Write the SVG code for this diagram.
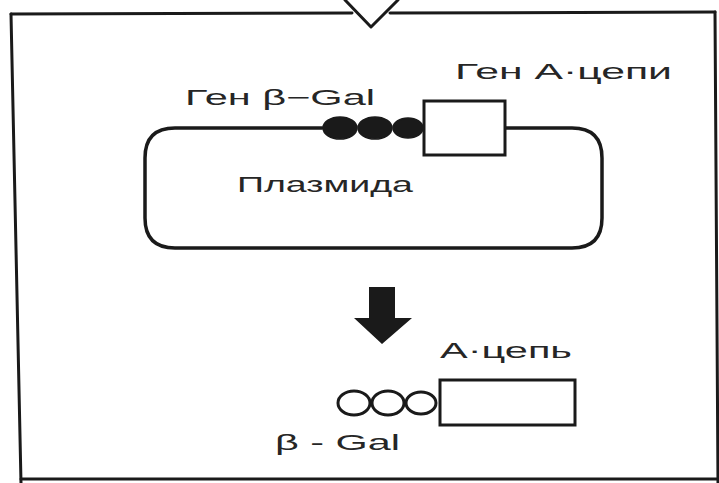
<svg xmlns="http://www.w3.org/2000/svg" width="719" height="483" viewBox="0 0 719 483">
  <style>
    .ln { fill: none; stroke: #1a1a1a; stroke-width: 3; stroke-linejoin: round; stroke-linecap: round; }
    .thick { stroke-width: 3.5; }
    .lbl { font-family: "Liberation Sans", Arial, sans-serif; font-size: 22px; fill: #262626; }
    .bead { fill: #1a1a1a; stroke: #1a1a1a; stroke-width: 1.5; }
    .ring { fill: #ffffff; stroke: #1a1a1a; stroke-width: 3; }
    .box { fill: #ffffff; stroke: #1a1a1a; stroke-width: 3; }
  </style>

  <rect width="719" height="483" fill="#ffffff"/>

  <!-- outer frame with the incoming arrow notch at the top -->
  <g id="frame">
    <path class="ln" d="M11,14 L352,13 M390,13 L715,12"/>
    <path class="ln" d="M345,0 L371,27 L398,0"/>
    <path class="ln" d="M11,14 L21,483"/>
    <path class="ln" d="M715,12 L718,483"/>
    <path class="ln" d="M21,479 L719,479"/>
  </g>

  <!-- plasmid ring carrying the fused genes -->
  <g id="plasmid">
    <path class="ln thick" d="M322,128 L175,128 Q145,128 145,158 L145,218 Q145,248 175,248 L572,248 Q602,248 602,218 L602,158 Q602,128 572,128 L505,128"/>
    <text class="lbl" x="237" y="192" textLength="176" lengthAdjust="spacingAndGlyphs">Плазмида</text>
  </g>

  <!-- beta-galactosidase gene (filled beads) -->
  <g id="gene-bgal">
    <ellipse class="bead" cx="340" cy="128" rx="17" ry="11"/>
    <ellipse class="bead" cx="375" cy="128" rx="17" ry="11"/>
    <ellipse class="bead" cx="408" cy="128" rx="15" ry="10"/>
    <text class="lbl" x="185" y="105" textLength="190" lengthAdjust="spacingAndGlyphs">Ген β−Gal</text>
  </g>

  <!-- A-chain gene (box) -->
  <g id="gene-a">
    <rect class="box" x="424" y="101" width="81" height="54"/>
    <text class="lbl" x="455" y="79" textLength="217" lengthAdjust="spacingAndGlyphs">Ген А·цепи</text>
  </g>

  <!-- expression arrow -->
  <g id="connectors">
    <path d="M369,287 L395,287 L395,318 L412,318 L382,344 L354,318 L369,318 Z" fill="#1a1a1a"/>
  </g>

  <!-- fused protein product -->
  <g id="product">
    <ellipse class="ring" cx="354" cy="403" rx="16" ry="12"/>
    <ellipse class="ring" cx="388" cy="403" rx="16" ry="12"/>
    <ellipse class="ring" cx="421" cy="403" rx="15" ry="11"/>
    <rect class="box" x="440" y="380" width="135" height="45"/>
    <text class="lbl" x="440" y="358" textLength="132" lengthAdjust="spacingAndGlyphs">А·цепь</text>
    <text class="lbl" x="275" y="450" font-size="25" textLength="125" lengthAdjust="spacingAndGlyphs">β - Gal</text>
  </g>
</svg>
